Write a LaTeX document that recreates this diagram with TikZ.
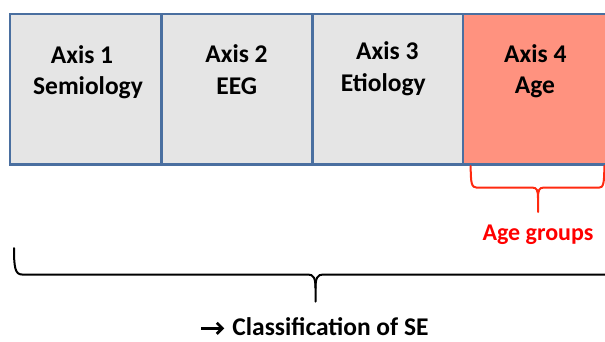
\documentclass[tikz,border=0pt]{standalone}
\usepackage{fontspec}
\setmainfont{Carlito}

\definecolor{axisborder}{HTML}{4A6FA0}
\definecolor{axisgray}{HTML}{E5E5E5}
\definecolor{agefill}{HTML}{FF927F}
\definecolor{bracered}{HTML}{FF2A10}
\definecolor{agered}{HTML}{FF0000}

\begin{document}
\begin{tikzpicture}[x=1pt,y=-1pt,
  axisbox/.style={draw=axisborder, line width=2.4pt, fill=axisgray,
    anchor=north west, minimum width=151pt, minimum height=150.5pt,
    inner sep=0pt, outer sep=0pt},
  agebox/.style={axisbox, fill=agefill},
  boxtext/.style={font=\fontsize{25.5}{30}\selectfont\bfseries, anchor=base,
    inner sep=0pt},
  grouptext/.style={boxtext, font=\fontsize{24}{30}\selectfont\bfseries},
  bracestroke/.style={line width=2pt, line cap=round, line join=miter},
]
\useasboundingbox (0,0) rectangle (605,341);
\clip (0,0) rectangle (605,341);

% the four axes
\node[axisbox] (ax1) at (9.7,14) {};
\node[axisbox] (ax2) at (161.5,14) {};
\node[axisbox] (ax3) at (312.3,14) {};
\node[agebox, minimum width=152pt] (ax4) at (462.7,14) {};

% axis titles
\node[boxtext] (t1a) at (82,63.3) {Axis 1};
\node[boxtext] (t1b) at (88,94.3) {Semiology};
\node[boxtext] (t2a) at (236.5,62.3) {Axis 2};
\node[boxtext] (t2b) at (236.8,94.3) {EEG};
\node[boxtext] (t3a) at (387.3,59.3) {Axis 3};
\node[boxtext] (t3b) at (383.3,91.7) {Etiology};
\node[boxtext] (t4a) at (535.3,62.3) {Axis 4};
\node[boxtext] (t4b) at (535,93.3) {Age};

% brace under the age axis
\draw[bracestroke, draw=bracered]
  (470.7,166) .. controls (470.7,183) and (471.5,187.7) .. (477,187.7)
  -- (533,187.7) .. controls (536.5,187.7) and (538,190) .. (538,198)
  -- (538,212);
\draw[bracestroke, draw=bracered]
  (538,198) .. controls (538,190) and (539.5,187.7) .. (543,187.7)
  -- (599,187.7) .. controls (603.5,187.7) and (604.3,183) .. (604.3,166);
\node[grouptext, text=agered] (agegroups) at (538,240.7) {Age groups};

% brace under the whole classification
\draw[bracestroke, draw=black]
  (14,248) .. controls (14,267) and (15,274.5) .. (22,274.5)
  -- (308,274.5) .. controls (313.5,274.5) and (315.5,278) .. (315.5,288)
  -- (315.5,301.5);
\draw[bracestroke, draw=black]
  (315.5,288) .. controls (315.5,278) and (317.5,274.5) .. (323,274.5)
  -- (620,274.5);

% result line: bold arrow followed by the caption
\node[boxtext, anchor=base west] (classif) at (232.2,335.5) {Classification of SE};
\draw[line width=2.8pt] (201,328.3) -- (221,328.3);
\draw[line width=2.8pt, line join=miter] (216.8,322.8) -- (222.3,328.3) -- (216.8,333.8);
\end{tikzpicture}
\end{document}
